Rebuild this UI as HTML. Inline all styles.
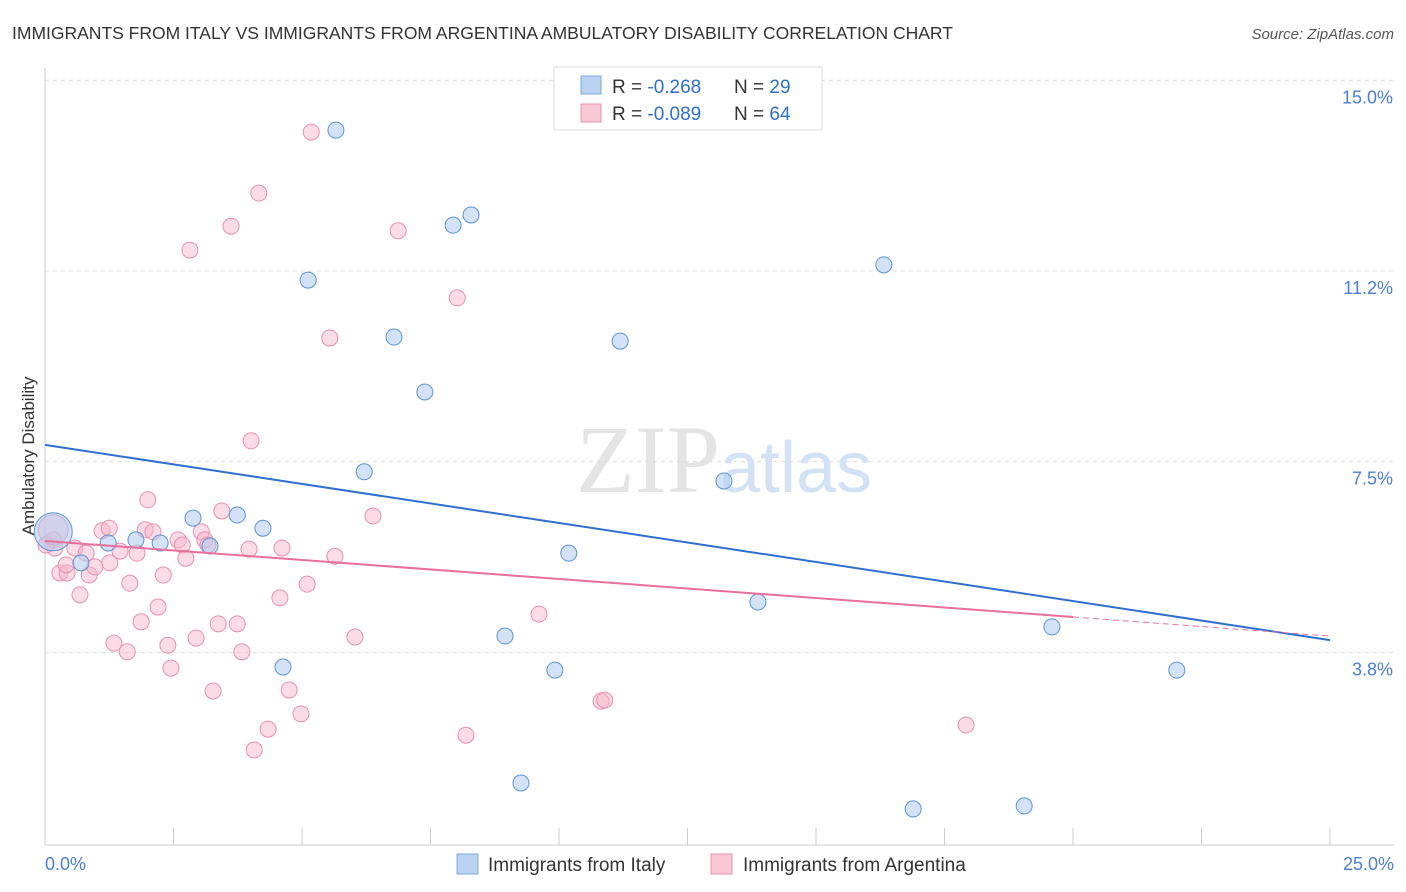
<!DOCTYPE html>
<html><head><meta charset="utf-8">
<style>
body{margin:0;background:#fff;font-family:"Liberation Sans",sans-serif;}
svg{display:block}
</style></head>
<body>
<svg id="chart" width="1406" height="892">
<text x="12" y="39" font-size="17.5" fill="#333">IMMIGRANTS FROM ITALY VS IMMIGRANTS FROM ARGENTINA AMBULATORY DISABILITY CORRELATION CHART</text>
<text x="1394" y="39" font-size="15" font-style="italic" fill="#555" text-anchor="end">Source: ZipAtlas.com</text>
<text x="720" y="492" font-size="96" font-family="Liberation Serif,serif" fill="#e4e4e4" text-anchor="end">ZIP</text>
<text x="720" y="492" font-size="72" fill="#d2e2f4">atlas</text>
<text transform="translate(34,456) rotate(-90)" font-size="17" fill="#333" text-anchor="middle">Ambulatory Disability</text>
<g id="grid"></g><g id="marks"></g>
<g>
<rect x="554" y="67" width="268" height="63" fill="#fff" stroke="#ddd"/>
<rect x="581" y="76" width="20" height="18" fill="#b9d3f1" stroke="#7ba7dc"/>
<rect x="581" y="104" width="20" height="18" fill="#f9c8d7" stroke="#e891ae"/>
<text x="612" y="93" font-size="19" fill="#333">R = <tspan fill="#2f6fd0">-0.268</tspan><tspan x="734">N = </tspan><tspan fill="#2f6fd0">29</tspan></text>
<text x="612" y="120" font-size="19" fill="#333">R = <tspan fill="#2f6fd0">-0.089</tspan><tspan x="734">N = </tspan><tspan fill="#2f6fd0">64</tspan></text>
</g>
<g>
<rect x="457" y="854" width="21" height="20" fill="#b9d3f1" stroke="#7ba7dc"/>
<text x="488" y="871" font-size="19" fill="#333">Immigrants from Italy</text>
<rect x="711" y="854" width="21" height="20" fill="#f9c8d7" stroke="#e891ae"/>
<text x="743" y="871" font-size="19" fill="#333">Immigrants from Argentina</text>
</g>
</svg>
<script>
const yTicks=[3.75,7.5,11.25,15];
const yTickLabels=["3.8%","7.5%","11.2%","15.0%"];
const xTicks=[0,2.5,5,7.5,10,12.5,15,17.5,20,22.5,25];
const italyX=[0.16,1.23,0.70,1.77,2.24,2.88,3.21,3.74,4.24,5.66,5.12,6.79,7.39,7.94,8.29,6.21,4.63,8.95,9.26,9.92,10.19,11.19,13.21,13.87,16.32,16.89,19.05,19.59,22.02];
const italyY=[6.12,5.90,5.51,5.96,5.90,6.39,5.84,6.45,6.19,14.02,11.07,9.95,8.87,12.15,12.35,7.30,3.46,4.07,1.18,3.40,5.70,9.87,7.12,4.74,11.37,0.67,0.73,4.25,3.40];
const argX=[0.16,0.19,0.29,0.43,0.58,0.68,0.80,0.86,0.97,1.11,1.25,1.34,1.46,1.60,1.65,1.79,1.87,2.00,1.95,2.10,2.20,2.30,2.39,2.45,2.59,2.67,2.74,2.82,2.94,3.04,3.11,3.17,3.27,3.37,3.44,3.62,3.74,3.83,3.97,4.01,4.07,4.16,4.34,4.61,4.57,4.75,4.98,5.10,5.18,5.54,5.64,6.03,6.38,6.87,8.02,8.19,9.61,10.82,10.89,17.92,0.02,0.41,1.26,0.16];
const argY=[5.96,5.80,5.31,5.31,5.80,4.88,5.70,5.27,5.43,6.14,6.19,3.93,5.74,3.76,5.11,5.70,4.35,6.75,6.16,6.12,4.64,5.27,3.89,3.44,5.96,5.86,5.60,11.66,4.03,6.12,5.96,5.86,2.99,4.31,6.53,12.13,4.31,3.76,5.78,7.91,1.83,12.78,2.24,5.80,4.82,3.01,2.54,5.09,13.98,9.93,5.64,4.05,6.43,12.04,10.72,2.12,4.50,2.79,2.81,2.32,5.86,5.47,5.51,6.16];
const italyLine=[7.83,3.99];
const argLine=[5.94,4.07];
const argSolidEnd=20;
const NS="http://www.w3.org/2000/svg";
const X=v=>45+v*51.4, Y=v=>843-v*50.85;
function mk(t,a,p){const e=document.createElementNS(NS,t);for(const k in a)e.setAttribute(k,a[k]);p.appendChild(e);return e;}
const grid=document.getElementById('grid'),marks=document.getElementById('marks');
mk('line',{x1:45,y1:68,x2:45,y2:845,stroke:'#ccc'},grid);
mk('line',{x1:45,y1:845,x2:1394,y2:845,stroke:'#ccc'},grid);
yTicks.forEach((t,i)=>{
 const g=mk('line',{x1:45,y1:Y(t),x2:1394,y2:Y(t),stroke:'#ddd','stroke-dasharray':'4,4'},grid);
 
 
 const l=mk('text',{x:1393,y:Y(t)+23,'font-size':18,fill:'#4a7fd4','text-anchor':'end'},grid);
 l.textContent=yTickLabels[i];
 
 
});
xTicks.forEach(t=>{
 const k=mk('line',{x1:X(t),y1:828,x2:X(t),y2:845,stroke:'#ccc'},grid);
 
 
});
const xl0=mk('text',{x:45,y:870,'font-size':18,fill:'#4a7fd4'},grid);xl0.textContent='0.0%';


const xl1=mk('text',{x:1394,y:870,'font-size':18,fill:'#4a7fd4','text-anchor':'end'},grid);xl1.textContent='25.0%';


argX.forEach((v,i)=>{
 const c=mk('circle',{cx:X(v),cy:Y(argY[i]),r:(i==argX.length-1?15:8),fill:'#f7b8cc','fill-opacity':0.5,stroke:'#e891ae','stroke-width':1},marks);
 
 
});
italyX.forEach((v,i)=>{
 const c=mk('circle',{cx:X(v),cy:Y(italyY[i]),r:(i==0?19:8),fill:'#aecbef','fill-opacity':0.55,stroke:'#5d93d8','stroke-width':1},marks);
 
 
});
const lerp=(a,b,t)=>a+(b-a)*t/25;
const bl=mk('line',{x1:X(0),y1:Y(italyLine[0]),x2:X(25),y2:Y(italyLine[1]),stroke:'#2f6fd0','stroke-width':2},marks);


const pl=mk('line',{x1:X(0),y1:Y(argLine[0]),x2:X(argSolidEnd),y2:Y(lerp(argLine[0],argLine[1],argSolidEnd)),stroke:'#e8709a','stroke-width':2},marks);


const pd=mk('line',{x1:X(argSolidEnd),y1:Y(lerp(argLine[0],argLine[1],argSolidEnd)),x2:X(25),y2:Y(argLine[1]),stroke:'#e8709a','stroke-width':1,'stroke-dasharray':'6,4'},marks);


</script>
</body></html>
